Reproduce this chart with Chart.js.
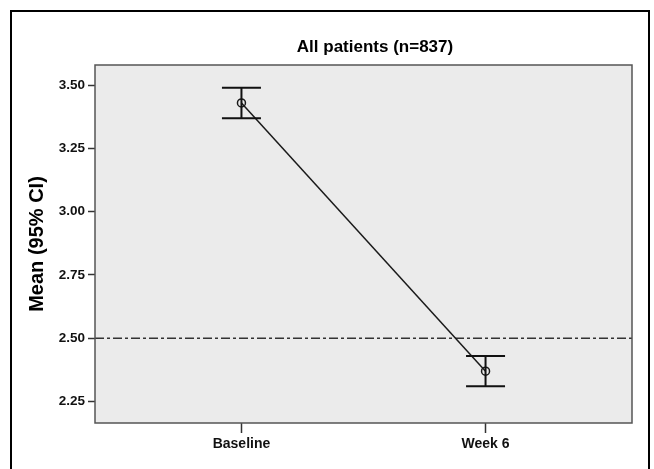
<!DOCTYPE html>
<html>
<head>
<meta charset="utf-8">
<script src="https://cdn.jsdelivr.net/npm/chart.js@4"></script>
<style>
  html, body { margin: 0; padding: 0; background: #fff; overflow: hidden; }
  #wrap { position: relative; width: 654px; height: 469px; }
  #frame { position: absolute; left: 10px; top: 10px; width: 640px; height: 480px; border: 2px solid #000; box-sizing: border-box; pointer-events: none; }
  canvas { position: absolute; left: 0; top: 0; }
</style>
</head>
<body>
<div id="wrap">
  <canvas id="chart" width="654" height="469"></canvas>
  <div id="frame"></div>
</div>
<script>
const categories = ['Baseline', 'Week 6'];
const means = [3.43, 2.37];
const ciLow = [3.37, 2.31];
const ciHigh = [3.49, 2.43];
const yTicks = [2.25, 2.50, 2.75, 3.00, 3.25, 3.50];
const refLevel = 2.50;
const titleText = 'All patients (n=837)';
const yTitle = 'Mean (95% CI)';

const FONT = "'Liberation Sans', Arial, Helvetica, sans-serif";

// grey panel + frame behind the data
const panelPlugin = {
    id: 'panel',
    beforeDatasetsDraw(chart) {
        const { ctx, chartArea: a } = chart;
        ctx.save();
        ctx.fillStyle = '#ebebeb';
        ctx.fillRect(a.left, a.top, a.right - a.left, a.bottom - a.top);
        ctx.restore();
    },
    afterDraw(chart) {
        const { ctx, chartArea: a } = chart;
        ctx.save();
        ctx.strokeStyle = '#555';
        ctx.lineWidth = 1.5;
        ctx.strokeRect(a.left, a.top, a.right - a.left, a.bottom - a.top);
        ctx.fillStyle = '#000';
        ctx.font = 'bold 17px ' + FONT;
        ctx.textAlign = 'center';
        ctx.textBaseline = 'middle';
        ctx.fillText(titleText, 375, 47);
        ctx.restore();
    }
};

// error bars with caps
const errorBarPlugin = {
    id: 'errorBars',
    afterDatasetsDraw(chart) {
        const { ctx, scales: { x, y } } = chart;
        ctx.save();
        ctx.strokeStyle = '#111';
        ctx.lineWidth = 2;
        categories.forEach((c, i) => {
            const px = x.getPixelForValue(i + 1);
            const yl = y.getPixelForValue(ciLow[i]);
            const yh = y.getPixelForValue(ciHigh[i]);
            const half = 19.5;
            ctx.beginPath();
            ctx.moveTo(px, yl); ctx.lineTo(px, yh);
            ctx.moveTo(px - half, yl); ctx.lineTo(px + half, yl);
            ctx.moveTo(px - half, yh); ctx.lineTo(px + half, yh);
            ctx.stroke();
        });
        ctx.restore();
    }
};

new Chart(document.getElementById('chart'), {
    type: 'line',
    data: {
        datasets: [
            {
                label: 'Mean',
                data: means.map((m, i) => ({ x: i + 1, y: m })),
                borderColor: '#1a1a1a',
                borderWidth: 1.5,
                backgroundColor: 'rgba(0,0,0,0)',
                pointRadius: 4,
                pointBorderWidth: 1.5,
                pointBorderColor: '#1a1a1a',
                pointBackgroundColor: 'rgba(0,0,0,0)',
                tension: 0
            },
            {
                label: 'Reference',
                data: [{ x: 0.4, y: refLevel }, { x: 2.6, y: refLevel }],
                borderColor: '#333',
                borderWidth: 1.5,
                borderDash: [9, 3, 3, 3],
                pointRadius: 0
            }
        ]
    },
    options: {
        responsive: false,
        animation: false,
        layout: { padding: { left: 25, right: 22, top: 65, bottom: 0 } },
        plugins: {
            legend: { display: false },
            tooltip: { enabled: false },
            title: { display: false }
        },
        scales: {
            x: {
                type: 'linear',
                min: 0.4,
                max: 2.6,
                afterBuildTicks: (s) => { s.ticks = categories.map((c, i) => ({ value: i + 1 })); },
                afterFit: (s) => { s.height = 46; },
                grid: { drawOnChartArea: false, drawTicks: true, tickLength: 10, color: '#333', tickWidth: 1.5 },
                border: { display: false },
                ticks: {
                    color: '#111',
                    padding: 3,
                    font: { family: FONT, size: 14, weight: 'bold' },
                    callback: (v) => categories[v - 1]
                }
            },
            y: {
                type: 'linear',
                min: 2.165,
                max: 3.58,
                afterBuildTicks: (s) => { s.ticks = yTicks.map(v => ({ value: v })); },
                afterFit: (s) => { s.width = 94 - 24; },
                grid: { drawOnChartArea: false, drawTicks: true, tickLength: 7, color: '#333', tickWidth: 1.5 },
                border: { display: false },
                ticks: {
                    color: '#111',
                    padding: 3,
                    font: { family: FONT, size: 13.5, weight: 'bold' },
                    callback: (v) => v.toFixed(2)
                },
                title: {
                    display: true,
                    text: yTitle,
                    color: '#000',
                    padding: 0,
                    font: { family: FONT, size: 20, weight: 'bold' }
                }
            }
        }
    },
    plugins: [panelPlugin, errorBarPlugin]
});
</script>
</body>
</html>
